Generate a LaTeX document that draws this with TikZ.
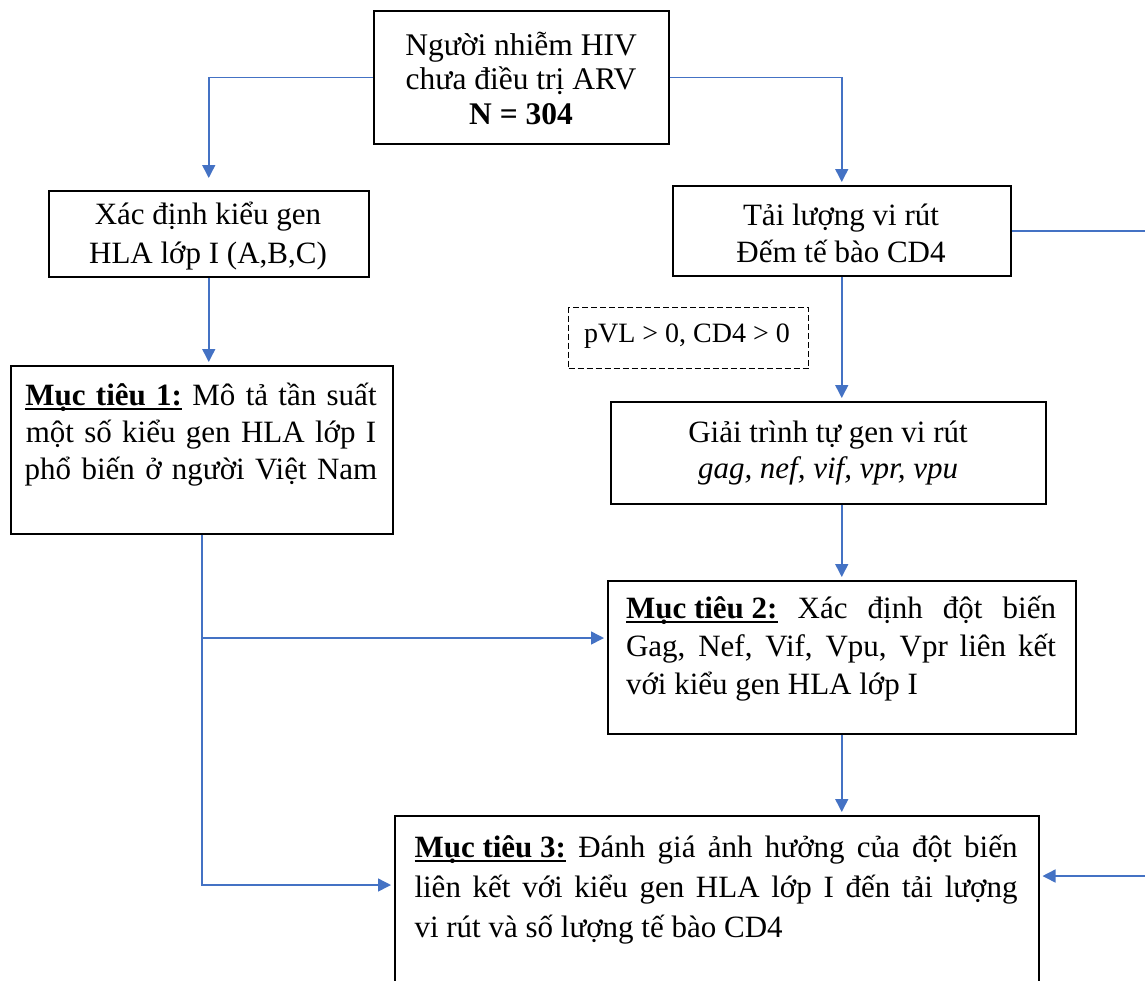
\documentclass[tikz,border=0pt]{standalone}
\usepackage{fontspec}
\setmainfont{Liberation Serif}
\usetikzlibrary{arrows.meta}
\definecolor{linkblue}{HTML}{4472C4}
% heading with a heavy underline
\newcommand\goalhead[1]{\setbox0\hbox{\textbf{#1}}\rlap{\rule[-4pt]{\wd0}{2pt}}\box0\relax}

\begin{document}
\begin{tikzpicture}[x=1pt,y=-1pt,
  box/.style={draw=black, line width=1.5pt, inner sep=0pt, anchor=north west},
  dbox/.style={box, dash pattern=on 6pt off 3pt, line width=1.2pt},
  txt/.style={font=\fontsize{31}{37}\selectfont, inner sep=0pt, align=center},
  jtxt/.style={txt, align=justify},
  small/.style={font=\fontsize{28}{32}\selectfont, inner sep=0pt},
  link/.style={draw=linkblue, line width=1.5pt},
  arr/.style={link, shorten >=3pt, -{Triangle[width=13pt,length=13pt]}}]
\useasboundingbox (0,0) rectangle (1145,980);
\clip (0,0) rectangle (1145,980);

% boxes
\node[box, minimum width=295, minimum height=133] (t) at (373,10) {};
\node[box, minimum width=320, minimum height=86] (g) at (48,190) {};
\node[box, minimum width=338, minimum height=90] (v) at (672,185) {};
\node[box, minimum width=382, minimum height=168] (m1) at (10,365) {};
\node[dbox, minimum width=240, minimum height=61] (d) at (568,307) {};
\node[box, minimum width=435, minimum height=102] (s) at (610,401) {};
\node[box, minimum width=468, minimum height=153] (m2) at (607,580) {};
\node[box, minimum width=644, minimum height=220] (m3) at (394,815) {};

% texts
\node[txt, font=\fontsize{31.5}{34.5}\selectfont] (tt) at (521,78)
  {Người nhiễm HIV\\chưa điều trị ARV\\\textbf{N = 304}};
\node[txt, font=\fontsize{31}{39}\selectfont] (gt) at (208,236) {Xác định kiểu gen\\HLA lớp I (A,B,C)};
\node[txt] (vt) at (841,233) {Tải lượng vi rút\\Đếm tế bào CD4};
\node[small] (dt) at (687,336) {pVL > 0, CD4 > 0};
\node[txt, font=\fontsize{31}{36}\selectfont] (st) at (828,453) {Giải trình tự gen vi rút\\\textit{gag, nef, vif, vpr, vpu}};
\node[txt, text width=372] (m1t) at (201,435)
  {\goalhead{Mục tiêu 1:} Mô tả tần suất\\một số kiểu gen HLA lớp I\\phổ biến ở người Việt Nam};
\node[jtxt, text width=430, font=\fontsize{31}{38}\selectfont] (m2t) at (841,649)
  {\goalhead{Mục tiêu 2:} Xác định đột biến\linebreak
   Gag, Nef, Vif, Vpu, Vpr liên kết\linebreak
   với kiểu gen HLA lớp I};
\node[jtxt, text width=603, font=\fontsize{31}{40}\selectfont] (m3t) at (716,890)
  {\goalhead{Mục tiêu 3:} Đánh giá ảnh hưởng của đột biến\linebreak
   liên kết với kiểu gen HLA lớp I đến tải lượng\linebreak
   vi rút và số lượng tế bào CD4};

% entry points on the side of the lower boxes
\coordinate (m2in) at ([yshift=-58pt]m2.north west);
\coordinate (m3in) at ([yshift=-70pt]m3.north west);
\coordinate (m3out) at ([yshift=-61pt]m3.north east);

% connectors
\draw[arr, shorten >=12pt] (t.west) -| (g.north);
\draw[arr] (t.east) -| (v.north);
\draw[arr] (g.south) -- (g.south |- m1.north);
\draw[arr] (v.south) -- (v.south |- s.north);
\draw[arr] (v.south |- s.south) -- (v.south |- m2.north);
\draw[arr] (v.south |- m2.south) -- (v.south |- m3.north);
\draw[arr] (m1.south) |- (m3in);
\draw[arr] (m1.south |- m2in) -- (m2in);
\draw[arr] (v.east) -- ++(190,0) |- (m3out);
\end{tikzpicture}
\end{document}
